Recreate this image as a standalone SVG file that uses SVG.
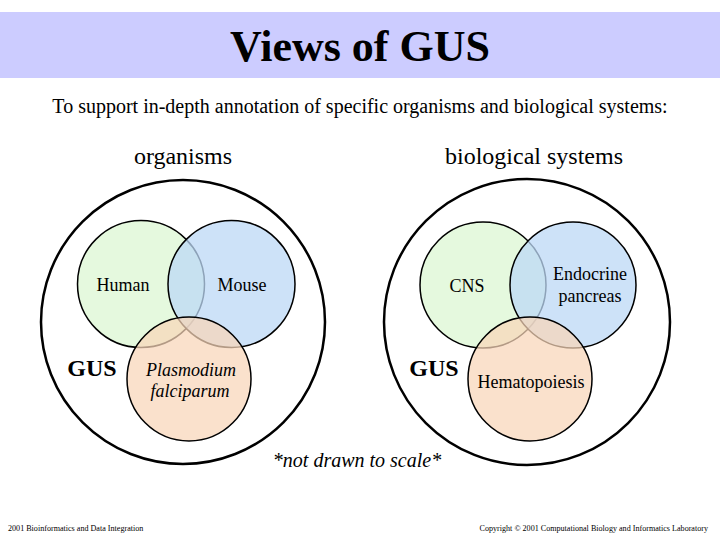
<svg xmlns="http://www.w3.org/2000/svg" width="720" height="540" viewBox="0 0 720 540">
<style>
text{font-family:"Liberation Serif","Times New Roman",serif;fill:#000}
.outer{fill:none;stroke:#000;stroke-width:2.5}
.inner{stroke:#000;stroke-width:1.5}
.g{fill:#e2f8da;fill-opacity:0.9}
.b{fill:#bcd8f6;fill-opacity:0.75}
.o{fill:#f8d6b8;fill-opacity:0.72}
.lbl{font-size:18px;text-anchor:middle}
.gus{font-size:24px;font-weight:bold;text-anchor:middle}
.foot{font-size:8.1px}
</style>
<rect width="720" height="540" fill="#fff"/>
<rect x="0" y="12" width="720" height="66" fill="#ccccff"/>
<text x="360" y="61" font-size="44" font-weight="bold" text-anchor="middle">Views of GUS</text>
<text x="360" y="113" font-size="20" text-anchor="middle">To support in-depth annotation of specific organisms and biological systems:</text>
<text x="183" y="164" font-size="24" text-anchor="middle">organisms</text>
<text x="534" y="164" font-size="24" text-anchor="middle">biological systems</text>

<g id="organisms">
<circle class="outer" cx="183" cy="322" r="142"/>
<g id="human"><circle class="inner g" cx="141" cy="284" r="63.5"/><text class="lbl" x="123" y="291">Human</text></g>
<g id="mouse"><circle class="inner b" cx="231.5" cy="284" r="63.5"/><text class="lbl" x="242" y="291">Mouse</text></g>
<g id="plasmodium"><circle class="inner o" cx="189" cy="379" r="62"/><text class="lbl" x="191" y="376" font-style="italic">Plasmodium</text><text class="lbl" x="190" y="397" font-style="italic">falciparum</text></g>
<text class="gus" x="92" y="376">GUS</text>
</g>

<g id="systems">
<circle class="outer" cx="527" cy="322" r="143"/>
<g id="cns"><circle class="inner g" cx="483" cy="285" r="63"/><text class="lbl" x="467" y="292">CNS</text></g>
<g id="endocrine"><circle class="inner b" cx="573" cy="285" r="63"/><text class="lbl" x="590" y="280">Endocrine</text><text class="lbl" x="590" y="302">pancreas</text></g>
<g id="hematopoiesis"><circle class="inner o" cx="530" cy="379" r="62"/><text class="lbl" x="531" y="388">Hematopoiesis</text></g>
<text class="gus" x="434" y="376">GUS</text>
</g>

<g id="connectors"/>

<text x="357" y="467" font-size="20" font-style="italic" text-anchor="middle">*not drawn to scale*</text>
<text class="foot" x="8" y="531">2001 Bioinformatics and Data Integration</text>
<text class="foot" x="708" y="531" text-anchor="end">Copyright © 2001 Computational Biology and Informatics Laboratory</text>
</svg>
